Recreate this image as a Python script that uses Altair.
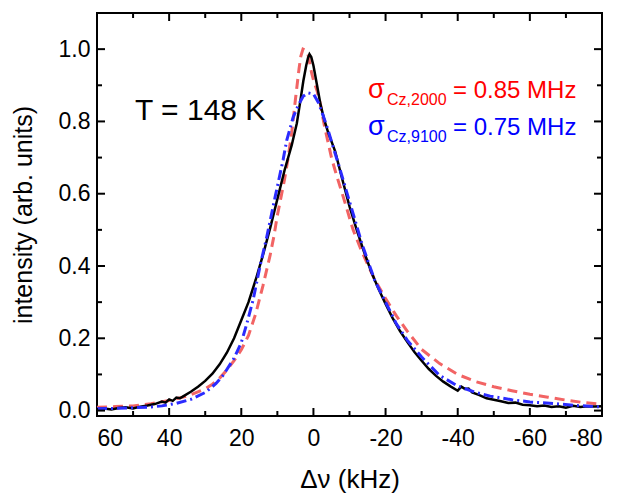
import altair as alt
import pandas as pd

# ---- data ----
black_x = [60, 58, 56, 54, 52, 50, 48, 46, 44, 42, 41, 40, 39, 38, 37, 36, 34, 32, 30, 28, 26, 24, 22, 20, 18, 16, 14, 12, 10, 8, 6, 4.6, 3.7, 2.8, 2, 1.5, 1.1, 0.6, 0, -1, -2, -3, -4, -5, -6, -8, -10, -12, -14, -16, -18, -20, -22, -24, -26, -28, -30, -32, -34, -36, -38, -40, -41, -42, -43, -44, -46, -48, -50, -52, -54, -56, -58, -60, -62, -64, -66, -68, -70, -72, -74, -76, -78, -80]
black_y = [0.004, 0.006, 0.003, 0.007, 0.009, 0.006, 0.011, 0.014, 0.018, 0.025, 0.022, 0.031, 0.027, 0.036, 0.034, 0.040, 0.052, 0.066, 0.082, 0.102, 0.128, 0.160, 0.200, 0.250, 0.300, 0.362, 0.430, 0.505, 0.585, 0.665, 0.735, 0.795, 0.852, 0.912, 0.955, 0.976, 0.986, 0.978, 0.955, 0.900, 0.845, 0.805, 0.772, 0.745, 0.718, 0.640, 0.565, 0.500, 0.440, 0.385, 0.338, 0.295, 0.255, 0.220, 0.190, 0.162, 0.138, 0.115, 0.096, 0.080, 0.067, 0.055, 0.066, 0.060, 0.061, 0.050, 0.043, 0.034, 0.030, 0.026, 0.021, 0.022, 0.016, 0.015, 0.012, 0.014, 0.010, 0.012, 0.008, 0.013, 0.010, 0.012, 0.011, 0.012]

red_x = [60, 55, 50, 45, 40, 35, 30, 28, 26, 24, 22, 20, 18, 16, 14, 12, 11, 10, 9, 8, 7, 6, 5, 4, 3.5, 2.9, 2, 1.5, 1, 0.5, 0, -1, -2, -3, -4, -5, -6, -7, -8, -9, -11, -13, -15, -17, -20, -23, -26, -30, -35, -40, -45, -50, -55, -60, -65, -70, -75, -80]
red_y = [0.009, 0.011, 0.013, 0.019, 0.028, 0.040, 0.060, 0.073, 0.090, 0.112, 0.138, 0.168, 0.208, 0.268, 0.345, 0.430, 0.480, 0.540, 0.590, 0.640, 0.700, 0.770, 0.860, 0.945, 0.980, 1.000, 0.995, 0.985, 0.960, 0.934, 0.915, 0.885, 0.845, 0.790, 0.745, 0.700, 0.665, 0.632, 0.600, 0.567, 0.500, 0.450, 0.405, 0.362, 0.310, 0.262, 0.220, 0.169, 0.130, 0.100, 0.080, 0.066, 0.055, 0.045, 0.037, 0.029, 0.022, 0.017]

blue_x = [60, 55, 50, 45, 42, 38, 34, 30, 27, 25, 22, 20, 18.4, 16.7, 14.8, 12.9, 10.6, 8.4, 7.4, 5.6, 4.2, 2.8, 1.5, 0, -1.4, -2.7, -4.1, -5.5, -7, -9, -11, -13.5, -17, -19.5, -23, -26, -30, -35, -40, -45, -49, -55, -60, -67, -73, -80]
blue_y = [0.005, 0.006, 0.008, 0.010, 0.013, 0.020, 0.031, 0.050, 0.075, 0.098, 0.145, 0.188, 0.243, 0.307, 0.400, 0.482, 0.592, 0.694, 0.748, 0.812, 0.845, 0.870, 0.879, 0.876, 0.852, 0.816, 0.775, 0.728, 0.680, 0.612, 0.545, 0.460, 0.360, 0.310, 0.240, 0.195, 0.148, 0.097, 0.068, 0.050, 0.040, 0.030, 0.024, 0.019, 0.014, 0.010]

x_major = [60, 40, 20, 0, -20, -40, -60, -80]
x_minor = [50, 30, 10, -10, -30, -50, -70]
y_major = [0.0, 0.2, 0.4, 0.6, 0.8, 1.0]
y_minor = [0.1, 0.3, 0.5, 0.7, 0.9]

W, H = 505, 403
FONT = "Liberation Sans"

xscale = alt.Scale(domain=[-80, 60], reverse=True, nice=False, zero=False)
yscale = alt.Scale(domain=[-0.015, 1.1], nice=False, zero=False)

xaxis = alt.Axis(values=x_major, labelExpr="toString(datum.value)", ticks=False, tickSize=0,
                 domain=False, grid=False, labelFontSize=23, labelFont=FONT, labelColor="black",
                 labelPadding=11, title="Δν (kHz)", titleFontSize=26, titleFont=FONT,
                 titleFontWeight="normal", titleColor="black", titleX=W / 2, titleY=71,
                 titleBaseline="alphabetic", titleAlign="center")
yaxis = alt.Axis(values=y_major, format=".1f", ticks=False, tickSize=0, domain=False, grid=False,
                 labelFontSize=23, labelFont=FONT, labelColor="black", labelPadding=7,
                 title="intensity (arb. units)", titleFontSize=25, titleFont=FONT,
                 titleFontWeight="normal", titleColor="black", titleX=-66, titleY=H / 2,
                 titleAngle=270, titleBaseline="alphabetic", titleAlign="center")

black = pd.DataFrame({"x": black_x, "y": black_y})
red = pd.DataFrame({"x": red_x, "y": red_y})
blue = pd.DataFrame({"x": blue_x, "y": blue_y})

def curve(df, **kw):
    return alt.Chart(df).mark_line(**kw).encode(
        x=alt.X("x:Q", scale=xscale, axis=xaxis),
        y=alt.Y("y:Q", scale=yscale, axis=yaxis),
    )

red_line = curve(red, color="#f26464", strokeWidth=3, strokeDash=[10, 6])
black_line = curve(black, color="black", strokeWidth=2.5)
blue_line = curve(blue, color="#2b2bff", strokeWidth=3, strokeDash=[10, 4, 2, 4])

def xticks(vals, length):
    df = pd.DataFrame({"x": vals})
    bottom = alt.Chart(df).mark_rule(color="black", strokeWidth=2).encode(
        x=alt.X("x:Q", scale=xscale, axis=xaxis), y=alt.value(H), y2=alt.value(H - length))
    top = alt.Chart(df).mark_rule(color="black", strokeWidth=2).encode(
        x=alt.X("x:Q", scale=xscale, axis=xaxis), y=alt.value(0), y2=alt.value(length))
    return [bottom, top]

def yticks(vals, length):
    df = pd.DataFrame({"y": vals})
    left = alt.Chart(df).mark_rule(color="black", strokeWidth=2).encode(
        y=alt.Y("y:Q", scale=yscale, axis=yaxis), x=alt.value(0), x2=alt.value(length))
    right = alt.Chart(df).mark_rule(color="black", strokeWidth=2).encode(
        y=alt.Y("y:Q", scale=yscale, axis=yaxis), x=alt.value(W - length), x2=alt.value(W))
    return [left, right]

ticks = xticks(x_major, 8) + xticks(x_minor, 5) + yticks(y_major, 8) + yticks(y_minor, 5)

one = pd.DataFrame({"a": [0]})

def label(text, x, y, size, color="black"):
    return alt.Chart(one).mark_text(text=text, font=FONT, fontSize=size, color=color,
                                    align="left", baseline="alphabetic").encode(
        x=alt.value(x), y=alt.value(y))

texts = [
    label("T = 148 K", 38, 107, 30),
    label("σ", 271, 85, 27, "#ff0000"),
    label("Cz,2000", 290, 92, 16, "#ff0000"),
    label("= 0.85 MHz", 356, 85, 24, "#ff0000"),
    label("σ", 271, 122, 27, "#0000ff"),
    label("Cz,9100", 290, 129, 16, "#0000ff"),
    label("= 0.75 MHz", 356, 122, 24, "#0000ff"),
]

chart = alt.layer(red_line, black_line, blue_line, *ticks, *texts).properties(
    width=W, height=H,
    autosize=alt.AutoSizeParams(type="none"),
    padding={"left": 89, "top": 5, "right": 5, "bottom": 77},
).configure_view(stroke="black", strokeWidth=2)

chart.save("out.html", embed_options={"renderer": "svg", "actions": False})
